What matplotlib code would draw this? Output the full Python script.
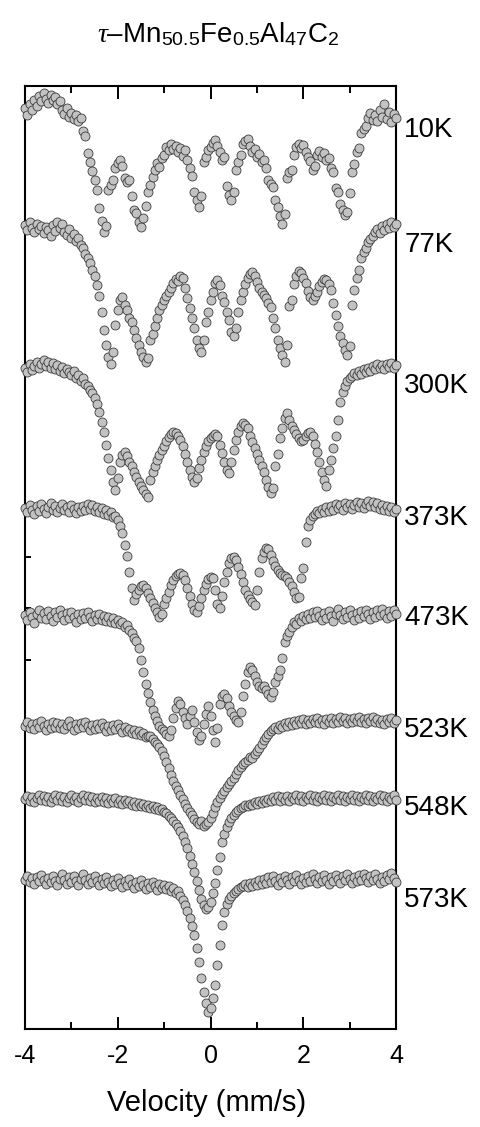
import numpy as np
import matplotlib
matplotlib.use("Agg")
import matplotlib.pyplot as plt

plt.rcParams['font.family'] = ['Liberation Sans', 'DejaVu Sans']
plt.rcParams['mathtext.fontset'] = 'custom'
plt.rcParams['mathtext.rm'] = 'Liberation Sans'
plt.rcParams['mathtext.it'] = 'Liberation Serif:italic'

# temperatures of the spectra, top to bottom
temps = ["10K", "77K", "300K", "373K", "473K", "523K", "548K", "573K"]

# absorption (per mille), velocity -4..4 mm/s in 0.05 steps
abs_10K = [3, 10, -1, 5, -5, 1, -9, -4, -12, -6,
           -2, -10, -5, -8, -1, -4, 5, 9, 3, 12,
           8, 14, 10, 16, 13, 26, 31, 48, 57, 66,
           75, 85, 103, 116, 127, 121, 85, 80, 75, 63,
           58, 55, 61, 73, 77, 75, 91, 105, 108, 117,
           122, 113, 101, 87, 80, 72, 65, 58, 62, 53,
           50, 42, 45, 39, 44, 41, 47, 43, 51, 45,
           55, 63, 71, 87, 95, 102, 91, 57, 52, 45,
           42, 38, 35, 41, 47, 55, 52, 81, 90, 95,
           87, 65, 57, 50, 39, 36, 34, 41, 47, 44,
           52, 49, 57, 55, 63, 75, 79, 82, 95, 102,
           111, 119, 109, 73, 67, 65, 50, 42, 39, 43,
           40, 47, 52, 56, 65, 61, 50, 46, 52, 48,
           55, 53, 63, 67, 83, 87, 99, 105, 110, 107,
           88, 67, 59, 47, 43, 28, 24, 21, 13, 8,
           15, 10, 16, 5, 12, -1, 14, 7, 17, 9,
           13]
abs_77K = [-2, 3, -5, 1, 5, -3, 2, -1, 6, 0,
           3, 9, -2, 4, -5, 1, -3, 5, 8, 2,
           11, 7, 14, 11, 18, 21, 27, 31, 36, 43,
           49, 58, 69, 85, 103, 118, 130, 137, 125, 98,
           83, 73, 70, 78, 83, 91, 95, 103, 111, 118,
           125, 130, 135, 131, 113, 107, 99, 91, 83, 78,
           73, 69, 65, 61, 56, 52, 54, 49, 51, 61,
           71, 81, 91, 101, 113, 121, 125, 113, 95, 85,
           73, 65, 56, 53, 58, 69, 75, 85, 93, 105,
           109, 101, 85, 73, 65, 57, 51, 47, 45, 49,
           55, 61, 65, 68, 71, 76, 80, 91, 101, 113,
           121, 128, 135, 118, 79, 73, 57, 49, 44, 46,
           51, 56, 64, 70, 73, 69, 65, 59, 55, 52,
           53, 57, 63, 76, 88, 99, 109, 116, 123, 128,
           119, 78, 63, 51, 43, 31, 25, 21, 15, 12,
           9, 5, 2, 6, -1, 3, -3, 1, -5, 0,
           -3]
abs_300K = [1, 5, -3, 3, -1, -5, 1, -3, -7, -1,
            -5, 1, -4, 2, -2, 4, 0, 6, 2, 5,
            8, 4, 11, 8, 14, 11, 17, 19, 23, 26,
            31, 37, 45, 55, 65, 78, 91, 103, 115, 123,
            111, 95, 88, 85, 89, 95, 99, 105, 110, 115,
            119, 123, 127, 130, 113, 105, 99, 93, 88, 83,
            79, 74, 70, 67, 65, 66, 69, 73, 79, 87,
            95, 103, 110, 115, 111, 101, 93, 85, 79, 74,
            71, 69, 67, 69, 78, 86, 95, 103, 106, 95,
            83, 73, 65, 59, 56, 58, 61, 69, 75, 81,
            87, 93, 99, 105, 113, 120, 126, 121, 99, 87,
            71, 61, 51, 46, 53, 59, 63, 67, 71, 74,
            73, 69, 66, 65, 69, 77, 85, 95, 105, 113,
            119, 103, 93, 81, 69, 53, 35, 25, 19, 14,
            11, 9, 6, 8, 4, 7, 2, 5, 1, 4,
            -1, 2, -3, 1, -2, 2, -3, 0, -4, 1,
            -2]
abs_373K = [0, 4, -3, 2, 6, -2, 3, -4, 1, 5,
            -1, -5, 2, -2, 4, 0, -4, 2, -1, 4,
            -3, 1, 5, -1, 3, -2, 2, -4, 1, -3,
            3, -1, 4, 0, 6, 2, 7, 4, 9, 8,
            12, 18, 25, 37, 48, 64, 80, 92, 86, 82,
            78, 77, 80, 85, 90, 95, 100, 104, 109, 106,
            96, 90, 84, 77, 72, 68, 66, 65, 67, 72,
            80, 88, 96, 102, 104, 98, 90, 82, 76, 71,
            69, 70, 82, 96, 100, 88, 74, 64, 55, 50,
            49, 52, 59, 66, 74, 82, 87, 91, 94, 97,
            82, 64, 50, 44, 40, 41, 47, 53, 58, 62,
            65, 67, 68, 70, 74, 78, 84, 90, 89, 70,
            60, 34, 18, 12, 8, 6, 3, 5, 1, 4,
            -1, 3, -2, 2, -4, 0, -3, 2, -5, -1,
            -4, 1, -3, -6, -1, -5, 0, -4, -7, -2,
            -6, -1, -5, 1, -3, 2, -2, 3, -1, 4,
            1]
abs_473K = [1, 6, -2, 3, 9, 0, -4, 4, -1, 5,
            -3, 2, 7, -2, 3, -4, 1, 6, -1, 4,
            -2, 3, 8, 0, 5, -1, 4, -2, 3, 7,
            1, 5, 0, 6, 2, 7, 3, 8, 4, 9,
            6, 10, 8, 13, 11, 16, 19, 24, 27, 34,
            46, 58, 70, 79, 88, 96, 102, 107, 112, 115,
            117, 120, 122, 116, 104, 94, 87, 90, 98, 104,
            110, 102, 96, 108, 118, 126, 122, 110, 100, 92,
            102, 116, 128, 114, 90, 82, 80, 84, 92, 98,
            102, 106, 108, 98, 82, 70, 58, 53, 56, 62,
            68, 72, 74, 72, 76, 80, 83, 78, 68, 62,
            56, 44, 28, 22, 18, 13, 8, 10, 4, 7,
            2, 5, 0, 4, -2, 3, -3, 2, 6, -1,
            4, -3, 2, 7, 0, -5, 1, 5, -2, 3,
            -4, 1, 6, -1, 4, -3, 2, -4, 0, 5,
            -2, 3, -4, 1, -5, 0, 4, -3, 2, -4,
            0]
abs_523K = [1, -3, 3, -1, 4, -2, 2, -4, 1, 5,
            -1, 3, -3, 2, -2, 3, -1, 4, 0, -4,
            1, 5, -1, 3, -2, 2, -3, 1, 5, 0,
            4, -1, 3, -2, 2, 6, 1, 5, 0, 4,
            -1, 3, 7, 2, 6, 4, 8, 5, 9, 6,
            10, 8, 12, 11, 11, 14, 17, 19, 22, 26,
            31, 37, 43, 50, 56, 61, 65, 70, 74, 79,
            83, 87, 90, 94, 97, 99, 96, 101, 99, 97,
            93, 88, 82, 77, 73, 69, 66, 62, 59, 56,
            53, 49, 45, 42, 39, 37, 35, 32, 33, 29,
            26, 23, 19, 15, 12, 9, 6, 4, 2, 4,
            0, 2, -2, 1, -3, 0, -4, -1, -5, -2,
            -6, -1, -5, -2, -6, -3, -7, -2, -5, -1,
            -6, -3, -7, -2, -6, -3, -8, -4, -7, -2,
            -6, -3, -7, -4, -8, -3, -6, -2, -7, -4,
            -8, -3, -6, -2, -5, -1, -6, -3, -7, -2,
            -5]
abs_548K = [0, -3, 2, -2, 3, -1, -4, 1, -3, 2,
            -2, 3, -1, -4, 1, -3, 2, -2, 3, -1,
            -4, 1, -2, 3, -1, -4, 1, -3, 2, -2,
            3, -1, 2, -2, 3, -1, 4, 0, 3, -1,
            4, 1, 5, 1, 4, 2, 6, 3, 7, 4,
            7, 5, 8, 6, 9, 7, 10, 8, 11, 10,
            13, 14, 17, 19, 22, 25, 28, 32, 37, 43,
            49, 57, 65, 73, 82, 91, 100, 106, 110, 108,
            103, 94, 84, 71, 58, 43, 35, 28, 23, 19,
            16, 13, 11, 9, 8, 6, 7, 5, 6, 3,
            5, 2, 4, 1, 3, 0, 2, -2, 1, -3,
            2, -2, 1, -3, 2, -2, 0, -4, 1, -3,
            2, -2, 0, -4, 1, -3, 2, -2, 0, -4,
            1, -3, 2, -2, 0, -4, 1, -3, 2, -2,
            0, -4, 1, -3, 2, -2, 0, -4, 1, -3,
            2, -2, 0, -4, 1, -3, 2, -2, 0, -4,
            1]
abs_573K = [1, -3, 3, -1, 5, -2, 2, -4, 1, 5,
            -1, 3, -3, 2, 6, 0, -5, 1, 5, -2,
            3, -3, 2, 6, 0, -5, 1, 5, -1, 3,
            -3, 2, 6, 0, 4, -2, 3, 7, 1, 5,
            -1, 4, 8, 2, 6, 0, 5, 9, 3, 7,
            1, 6, 10, 4, 8, 3, 7, 11, 5, 9,
            6, 10, 7, 12, 9, 14, 12, 17, 21, 26,
            32, 39, 47, 56, 69, 83, 99, 113, 124, 133,
            129, 119, 106, 86, 66, 46, 33, 25, 20, 17,
            14, 12, 10, 8, 7, 5, 8, 4, 7, 3,
            6, 1, 5, 0, 4, -2, 3, -3, 2, 6,
            -1, 3, -3, 1, 5, -2, 2, -4, 1, 5,
            -1, 3, -3, 2, -5, 0, 4, -2, 2, -4,
            1, 5, -2, 2, -4, 0, 4, -3, 1, -5,
            0, 4, -2, 2, -4, 1, -5, -1, 3, -3,
            1, -5, 0, 4, -2, 2, -4, 0, -6, -1,
            3]

spectra = [abs_10K, abs_77K, abs_300K, abs_373K, abs_473K, abs_523K, abs_548K, abs_573K]

# vertical shift of each spectrum (per mille) so they stack
shifts = [924, 802, 662, 521, 415, 304, 230, 150]
label_y = [892, 777, 636, 504, 404, 292, 214, 122]

fig = plt.figure(figsize=(4.8, 11.27), dpi=100)
ax = fig.add_axes([25/480, 98/1127, 371/480, 943/1127])

for s, sh in zip(spectra, shifts):
    vel = np.linspace(-4, 4, len(s))
    ax.scatter(vel, sh - np.array(s), s=42, facecolor='#c2c2c2',
               edgecolor='#3c3c3c', linewidths=0.6, zorder=3, clip_on=False)

for t, ly in zip(temps, label_y):
    ax.text(1.022, ly, t, transform=ax.get_yaxis_transform(), fontsize=20,
            ha='left', va='baseline')

ax.set_xlim(-4, 4)
ax.set_ylim(0, 943)
ax.set_xticks([-4, -2, 0, 2, 4], ['-4', '-2', '0', '2', '4'])
ax.set_xticks([-3, -1, 1, 3], minor=True)
ax.set_yticks([522, 472, 421, 369], [])
ax.tick_params(axis='x', which='both', direction='in', top=True, width=1.4,
               labelsize=18, pad=11)
ax.tick_params(axis='x', which='major', length=9)
ax.tick_params(axis='x', which='minor', length=5)
ax.tick_params(axis='y', direction='in', length=4, width=1.4, right=False)
for sp in ax.spines.values():
    sp.set_linewidth(1.5)
ax.set_xlabel('Velocity (mm/s)', fontsize=21)
ax.xaxis.set_label_coords(0.49, -0.064)

fig.text(218/480, 1 - 42/1127,
         r'$\tau$–Mn$_{50.5}$Fe$_{0.5}$Al$_{47}$C$_{2}$',
         fontsize=20, ha='center', va='baseline')

fig.savefig('out.png', dpi=100)
